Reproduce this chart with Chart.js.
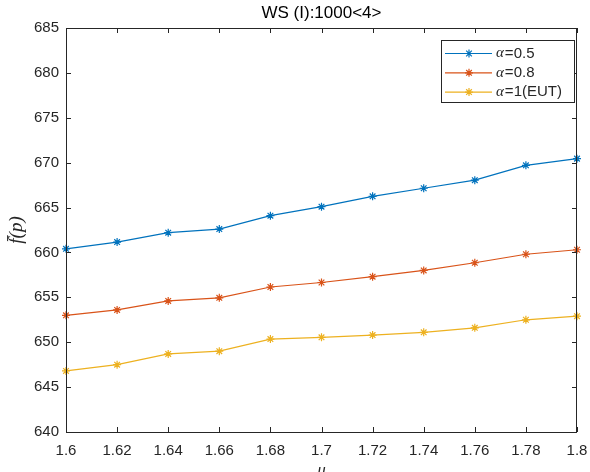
<!DOCTYPE html>
<html>
<head>
<meta charset="utf-8">
<script src="https://cdn.jsdelivr.net/npm/chart.js@4.4.1/dist/chart.umd.min.js"></script>
<style>
  html, body { margin: 0; padding: 0; background: #fff; overflow: hidden; }
  #wrap { width: 590px; height: 490px; }
</style>
</head>
<body>
<div id="wrap"><canvas id="chart"></canvas></div>
<script>
// данi з картинки
const muLabels = ["1.6", "1.62", "1.64", "1.66", "1.68", "1.7", "1.72", "1.74", "1.76", "1.78", "1.8"];
const alpha05 = [660.4, 661.15, 662.2, 662.6, 664.1, 665.1, 666.25, 667.15, 668.05, 669.7, 670.45];
const alpha08 = [653.0, 653.6, 654.6, 654.95, 656.15, 656.65, 657.3, 658.0, 658.85, 659.8, 660.3];
const alpha1 = [646.8, 647.5, 648.7, 649.0, 650.35, 650.55, 650.8, 651.1, 651.6, 652.5, 652.9];
const seriesNames = ["α=0.5", "α=0.8", "α=1(EUT)"];
const colors = ["#0072BD", "#D95319", "#EDB120"];

const axisColor = "#262626";
const sans = "'Liberation Sans', Arial, sans-serif";
const serif = "'Liberation Serif', 'DejaVu Serif', serif";

// рамка, внутрiшнi засiчки i легенда як у matlab
const matlabBox = {
  id: "matlabBox",
  afterDraw(chart) {
    const ctx = chart.ctx;
    const a = chart.chartArea;
    const xs = chart.scales.x;
    const ys = chart.scales.y;
    ctx.save();
    ctx.strokeStyle = axisColor;
    ctx.lineWidth = 1;
    ctx.strokeRect(a.left + 0.5, a.top + 0.5, a.right - a.left - 1, a.bottom - a.top);
    const tl = 5;
    ctx.beginPath();
    xs.ticks.forEach((t, i) => {
      const px = Math.round(xs.getPixelForTick(i)) + 0.5;
      ctx.moveTo(px, a.bottom); ctx.lineTo(px, a.bottom - tl);
      ctx.moveTo(px, a.top); ctx.lineTo(px, a.top + tl);
    });
    ys.ticks.forEach((t, i) => {
      const py = Math.round(ys.getPixelForTick(i)) + 0.5;
      ctx.moveTo(a.left, py); ctx.lineTo(a.left + tl, py);
      ctx.moveTo(a.right, py); ctx.lineTo(a.right - tl, py);
    });
    ctx.stroke();

    // легенда
    const bx = 441, by = 40, bw = 133, bh = 62;
    ctx.fillStyle = "#fff";
    ctx.fillRect(bx, by, bw, bh);
    ctx.strokeStyle = axisColor;
    ctx.strokeRect(bx + 0.5, by + 0.5, bw, bh);
    chart.data.datasets.forEach((ds, i) => {
      const y = by + 13.5 + i * 19.3;
      ctx.strokeStyle = ds.borderColor;
      ctx.lineWidth = 1.2;
      ctx.beginPath();
      ctx.moveTo(bx + 4, y); ctx.lineTo(bx + 51, y);
      ctx.stroke();
      Chart.helpers.drawPoint(ctx, { pointStyle: "star", radius: 4, borderWidth: 1.2 }, bx + 28, y);
      ctx.fillStyle = axisColor;
      ctx.textBaseline = "middle";
      ctx.font = "italic 15px " + serif;
      const sym = ds.label.charAt(0);
      ctx.fillText(sym, bx + 55, y);
      const w = ctx.measureText(sym).width;
      ctx.font = "15px " + sans;
      ctx.fillText(ds.label.slice(1), bx + 55 + w + 1, y);
    });
    ctx.restore();
  }
};

const makeSet = (label, data, color) => ({
  label: label,
  data: data,
  borderColor: color,
  backgroundColor: color,
  borderWidth: 1.2,
  pointStyle: "star",
  pointRadius: 4,
  pointBorderWidth: 1.2,
  pointHoverRadius: 4,
  tension: 0,
  fill: false,
});

const ctx = document.getElementById("chart").getContext("2d");
const chart = new Chart(ctx, {
  type: "line",
  data: {
    labels: muLabels,
    datasets: [
      makeSet(seriesNames[0], alpha05, colors[0]),
      makeSet(seriesNames[1], alpha08, colors[1]),
      makeSet(seriesNames[2], alpha1, colors[2]),
    ],
  },
  options: {
    responsive: true,
    maintainAspectRatio: false,
    animation: false,
    layout: { padding: { left: 0, right: 13, top: 0, bottom: 0 } },
    plugins: {
      legend: { display: false },
      tooltip: { enabled: false },
      title: {
        display: true,
        text: "WS (I):1000<4>",
        fullSize: false,
        color: "#000",
        font: { family: sans, size: 17, weight: "normal", lineHeight: 1.2 },
        padding: { top: 3.5, bottom: 4.1 },
      },
    },
    scales: {
      x: {
        type: "category",
        offset: false,
        grid: { display: false, drawTicks: false },
        border: { display: false },
        ticks: { color: axisColor, font: { family: sans, size: 15 }, padding: 10, maxRotation: 0, autoSkip: false },
        title: { display: true, text: "μ", color: axisColor, font: { family: serif, size: 17, style: "italic" }, padding: { top: 0, bottom: 9 } },
        afterFit(scale) {
          scale.height = 58;
          scale.paddingLeft = 0;
          scale.paddingRight = 0;
        },
      },
      y: {
        min: 640,
        max: 685,
        grid: { display: false, drawTicks: false },
        border: { display: false },
        ticks: { stepSize: 5, color: axisColor, font: { family: sans, size: 15 }, padding: 7 },
        title: { display: true, text: "f\u0304(p)", color: axisColor, font: { family: serif, size: 19, style: "italic" }, padding: { top: 6, bottom: 0 } },
        afterFit(scale) {
          scale.width = 66;
          scale.paddingTop = 0;
          scale.paddingBottom = 0;
        },
      },
    },
  },
  plugins: [matlabBox],
});
</script>
</body>
</html>
